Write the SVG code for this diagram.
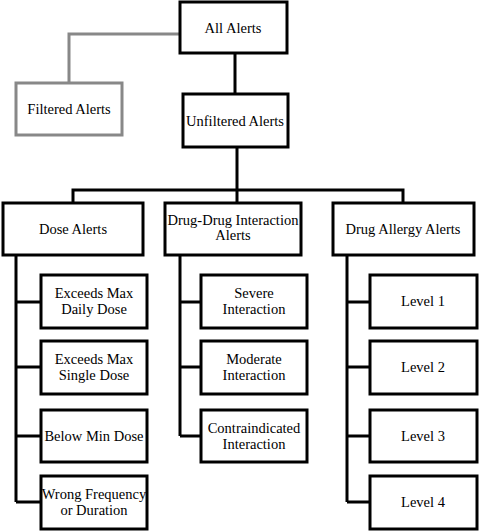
<svg xmlns="http://www.w3.org/2000/svg" width="479" height="531" viewBox="0 0 479 531">
<style>
.b{fill:#fff;stroke:#000;stroke-width:3}
.g{fill:#fff;stroke:#888;stroke-width:3}
.c{fill:none;stroke:#000;stroke-width:3}
.cg{fill:none;stroke:#888;stroke-width:3}
text{font-size:14.5px;fill:#000;text-anchor:middle}
</style>
<rect width="479" height="531" fill="#fff"/>
<g id="connectors">
<path class="cg" d="M180 34H69V83"/>
<path class="c" d="M235 53V94M237 147V190M73 203V190H403V203M237 190V203"/>
<path class="c" d="M16 255V502M16 302H41M16 367H41M16 436H41M16 502H41"/>
<path class="c" d="M180 255V436M180 302H201M180 367H201M180 436H201"/>
<path class="c" d="M347 255V502M347 302H370M347 367H370M347 436H370M347 502H370"/>
</g>
<g font-family="Liberation Serif, DejaVu Serif, serif">
<g id="all"><rect class="b" x="180" y="2" width="107" height="51"/><text x="233" y="33">All Alerts</text></g>
<g id="filtered"><rect class="g" x="16" y="83" width="106" height="52"/><text x="69" y="114">Filtered Alerts</text></g>
<g id="unfiltered"><rect class="b" x="183" y="94" width="105" height="53"/><text x="235" y="126">Unfiltered Alerts</text></g>
<g id="dose"><rect class="b" x="3" y="203" width="140" height="52"/><text x="73" y="234">Dose Alerts</text></g>
<g id="ddi"><rect class="b" x="165" y="203" width="136" height="52"/><text x="233" y="225">Drug-Drug Interaction</text><text x="233" y="240">Alerts</text></g>
<g id="allergy"><rect class="b" x="333" y="203" width="141" height="52"/><text x="403" y="234">Drug Allergy Alerts</text></g>
<g id="d1"><rect class="b" x="41" y="275" width="106" height="53"/><text x="94" y="298">Exceeds Max</text><text x="94" y="314">Daily Dose</text></g>
<g id="d2"><rect class="b" x="41" y="341" width="106" height="53"/><text x="94" y="364">Exceeds Max</text><text x="94" y="380">Single Dose</text></g>
<g id="d3"><rect class="b" x="41" y="410" width="106" height="52"/><text x="94" y="441">Below Min Dose</text></g>
<g id="d4"><rect class="b" x="41" y="476" width="106" height="53"/><text x="94" y="499">Wrong Frequency</text><text x="94" y="515">or Duration</text></g>
<g id="i1"><rect class="b" x="201" y="275" width="106" height="53"/><text x="254" y="298">Severe</text><text x="254" y="314">Interaction</text></g>
<g id="i2"><rect class="b" x="201" y="341" width="106" height="53"/><text x="254" y="364">Moderate</text><text x="254" y="380">Interaction</text></g>
<g id="i3"><rect class="b" x="201" y="410" width="106" height="52"/><text x="254" y="433">Contraindicated</text><text x="254" y="449">Interaction</text></g>
<g id="l1"><rect class="b" x="370" y="275" width="107" height="53"/><text x="423" y="306">Level 1</text></g>
<g id="l2"><rect class="b" x="370" y="341" width="107" height="53"/><text x="423" y="372">Level 2</text></g>
<g id="l3"><rect class="b" x="370" y="410" width="107" height="52"/><text x="423" y="441">Level 3</text></g>
<g id="l4"><rect class="b" x="370" y="476" width="107" height="53"/><text x="423" y="507">Level 4</text></g>
</g>
</svg>
